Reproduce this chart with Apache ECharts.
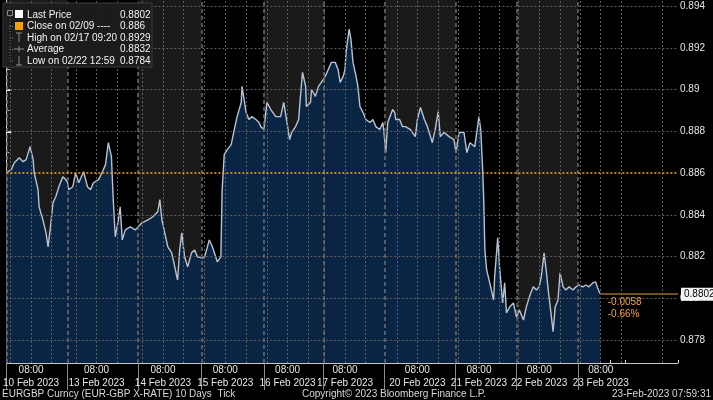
<!DOCTYPE html>
<html><head><meta charset="utf-8">
<script src="https://cdn.jsdelivr.net/npm/echarts@6/dist/echarts.min.js"></script>
<style>html,body{margin:0;padding:0;background:#000;}#c{width:713px;height:400px;}</style>
</head><body><div id="c"></div>
<script>
// [session hour, price]
const day10Feb = [[0,0.88602],[1.9,0.88617],[3.1,0.88650],[5,0.88674],[6.5,0.88655],[7.7,0.88665],[9.2,0.88727],[10.4,0.88665],[10.8,0.88602],[12.3,0.88521],[12.7,0.88439],[14.2,0.88376],[15.4,0.88314],[16.2,0.88247],[17.3,0.88362],[18.1,0.88458],[19.2,0.88487],[20.4,0.88535],[21.9,0.88583],[23.1,0.88569]];
const day13Feb = [[23.8,0.88554],[24.2,0.88521],[25.8,0.88535],[26.9,0.88602],[28.1,0.88554],[30,0.88607],[31.5,0.88535],[32.7,0.88521],[33.8,0.88554],[35.8,0.88569],[37.3,0.88607],[38.5,0.88641],[39.6,0.88746],[40.8,0.88679],[41.5,0.88473],[42.3,0.88295],[43.5,0.88376],[44.2,0.88439],[45,0.88280],[46.2,0.88328],[48.1,0.88343],[50,0.88328]];
const day14Feb = [[51.2,0.88343],[52.7,0.88362],[55,0.88376],[56.9,0.88391],[58.8,0.88415],[59.6,0.88473],[60.4,0.88376],[61.5,0.88314],[62.7,0.88247],[64.2,0.88218],[65.4,0.88151],[66.2,0.88103],[66.5,0.88088],[67.3,0.88232],[68.1,0.88314],[69.2,0.88199],[70.4,0.88151],[71.9,0.88218],[73.1,0.88232],[74.2,0.88199]];
const day15Feb = [[75.8,0.88194],[76.9,0.88194],[78.8,0.88280],[80,0.88247],[81.9,0.88175],[83.3,0.88199],[83.8,0.88521],[84.6,0.88689],[85.8,0.88713],[87.3,0.88737],[88.5,0.88809],[89.6,0.88871],[91.2,0.88939],[91.5,0.89016],[92.3,0.88953],[93.1,0.88891],[94.2,0.88857],[95.4,0.88871],[96.9,0.88857],[98.1,0.88843],[98.8,0.88823]];
const day16Feb = [[100,0.88809],[101.2,0.88939],[102.7,0.88905],[104.6,0.88871],[106.5,0.88871],[107.7,0.88939],[108.8,0.88857],[110,0.88761],[110.8,0.88795],[112.3,0.88823],[113.5,0.88857],[114.2,0.88968],[115,0.89083],[116.2,0.89016],[116.5,0.88919],[118.1,0.88939],[118.5,0.89001],[120,0.88968],[121.2,0.89016],[122.3,0.89035]];
const day17Feb = [[123.1,0.89049],[123.8,0.89064],[125,0.89097],[126.2,0.89131],[127.7,0.89131],[128.8,0.89097],[129.6,0.89035],[130.8,0.89064],[131.5,0.89097],[131.9,0.89179],[133.1,0.8929],[133.8,0.89241],[134.6,0.89131],[135.8,0.89064],[136.5,0.89016],[137.3,0.88919],[138.5,0.88891],[139.6,0.88857],[141.2,0.88843],[142.3,0.88857],[143.5,0.88823],[145,0.88809],[146.2,0.88843]];
const day20Feb = [[146.9,0.88761],[147.3,0.88698],[148.1,0.88843],[148.8,0.88843],[150,0.88905],[150.8,0.88891],[151.2,0.88857],[152.7,0.88857],[153.8,0.88823],[155,0.88823],[156.9,0.88809],[158.8,0.88775],[159.6,0.88857],[160.8,0.88915],[162.3,0.88857],[163.5,0.88823],[165.4,0.88746],[166.5,0.88809],[167.7,0.88895],[168.5,0.88775],[170,0.88795],[171.9,0.88775],[173.8,0.88761]];
const day21Feb = [[174.6,0.88698],[175.8,0.88795],[177.7,0.88795],[178.8,0.88698],[180,0.88746],[181.9,0.88727],[183.5,0.88871],[184.2,0.88809],[185,0.88602],[185.4,0.88458],[185.8,0.88232],[186.5,0.88136],[187.7,0.88074],[189.2,0.87992],[189.6,0.88103],[190.8,0.88290],[191.5,0.88151],[192.7,0.87978],[193.5,0.88074],[194.2,0.87930],[195.4,0.87958],[196.9,0.87978],[198.1,0.87910]];
const day22Feb = [[199.2,0.87944],[200.8,0.87896],[201.9,0.87958],[203.1,0.88007],[204.6,0.88055],[205.8,0.88040],[206.9,0.88055],[207.7,0.88103],[208.8,0.88218],[209.6,0.88136],[210.4,0.88040],[211.2,0.87958],[212.3,0.8784],[213.1,0.87958],[214.2,0.87992],[215,0.88122],[216.2,0.88055],[217.3,0.88040],[218.5,0.88055],[220,0.88040],[221.2,0.88055]];
const day23Feb = [[222.3,0.88064],[223.8,0.88055],[225,0.88064],[226.2,0.88055],[227.7,0.88074],[228.8,0.88079],[229.6,0.88050],[230.4,0.88026],[230.8,0.8802]];

const dayStarts = [0,23.8,51.2,75.8,100,123.1,146.9,174.4,198.1,221.9];
const dayLabels = ['10 Feb 2023','13 Feb 2023','14 Feb 2023','15 Feb 2023','16 Feb 2023','17 Feb 2023','20 Feb 2023','21 Feb 2023','22 Feb 2023','23 Feb 2023'];
const labelHours = [9.6,35,60.8,85,109.2,131.5,159.6,183.5,206.9,230.8];
const xMax = 260.8;
const yMin = 0.8769, yMax = 0.8943;
const yTicks = [0.878,0.88,0.882,0.884,0.886,0.888,0.89,0.892,0.894];
const yMinorTicks = [0.879,0.881,0.883,0.885,0.887,0.889,0.891,0.893];
const closePrice = 0.886;
const lastPrice = 0.8802;
const lastLabel = '0.8802';
const changeTexts = ['-0.0058','-0.66%'];
const legendLabels = ['Last Price','Close on 02/09 ----','High on 02/17 09:20','Average','Low on 02/22 12:59'];
const legendValues = ['0.8802','0.886','0.8929','0.8832','0.8784'];
const footerLeft = 'EURGBP Curncy (EUR-GBP X-RATE) 10 Days  Tick';
const footerMid = 'Copyright\u00a9 2023 Bloomberg Finance L.P.';
const footerRight = '23-Feb-2023 07:59:31';

const prices = [].concat(day10Feb,day13Feb,day14Feb,day15Feb,day16Feb,day17Feb,day20Feb,day21Feb,day22Feb,day23Feb);
const lastHour = prices[prices.length-1][0];

const bands = [];
for (let i = 0; i < dayStarts.length; i += 2) {
  bands.push([{xAxis: dayStarts[i]}, {xAxis: i+1 < dayStarts.length ? dayStarts[i+1] : xMax}]);
}
const minorX = [];
dayStarts.forEach(s => { for (let k = 1; k <= 3; k++) minorX.push(s + k*6.2); });
minorX.push(xMax);
const gridX = [];
labelHours.forEach(h => { [h-8, h, h+8].forEach(v => { if (v > 0.5 && v < xMax) gridX.push(v); }); });
[254.8].forEach(v => gridX.push(v));

const dotted = {color:'#5e5e5e', width:1, type:[2,2]};
const mlData = [];
gridX.forEach(v => mlData.push({xAxis: v, lineStyle: dotted}));
yTicks.forEach(v => { if (v !== closePrice) mlData.push({yAxis: v, lineStyle: dotted}); });
dayStarts.forEach(v => mlData.push({xAxis: v, lineStyle: {color:'#6e6e6e', width:1.5, type:[4,3]}}));
mlData.push({yAxis: closePrice, lineStyle: {color:'#f5a623', width:1.5, type:[2,2]}});

const fmtY = v => String(Number(v.toFixed(3)));
const font = '"Liberation Sans", Arial, sans-serif';

const legendGraphics = [
  {type:'rect', shape:{x:3,y:3,width:149,height:64}, style:{fill:'rgba(28,28,28,0.96)', stroke:'#3c3c3c', lineWidth:1}, z:100},
  {type:'rect', shape:{x:7.5,y:10.5,width:5,height:5}, style:{fill:'none', stroke:'#888', lineWidth:1}, z:101},
  {type:'line', shape:{x1:10,y1:16,x2:10,y2:61}, style:{stroke:'#777', lineWidth:1, lineDash:[1,2]}, z:101},
  {type:'rect', shape:{x:15,y:10,width:8,height:8}, style:{fill:'#ffffff'}, z:101},
  {type:'rect', shape:{x:15,y:22,width:8,height:8}, style:{fill:'#f5a000'}, z:101},
  {type:'line', shape:{x1:19,y1:33,x2:19,y2:42}, style:{stroke:'#8a8a8a', lineWidth:1}, z:101},
  {type:'line', shape:{x1:16,y1:33,x2:22,y2:33}, style:{stroke:'#8a8a8a', lineWidth:1}, z:101},
  {type:'line', shape:{x1:14,y1:49,x2:24,y2:49}, style:{stroke:'#8a8a8a', lineWidth:1}, z:101},
  {type:'line', shape:{x1:19,y1:46,x2:19,y2:52}, style:{stroke:'#8a8a8a', lineWidth:1}, z:101},
  {type:'line', shape:{x1:19,y1:56,x2:19,y2:65}, style:{stroke:'#8a8a8a', lineWidth:1}, z:101},
  {type:'line', shape:{x1:16,y1:65,x2:22,y2:65}, style:{stroke:'#8a8a8a', lineWidth:1}, z:101}
];
const rowY = [15,26.5,38,49.5,61];
[26.5,38,49.5,61].forEach(y => legendGraphics.push({type:'line', shape:{x1:10,y1:y,x2:14,y2:y}, style:{stroke:'#777', lineWidth:1, lineDash:[1,1]}, z:101}));
legendLabels.forEach((t,i) => {
  legendGraphics.push({type:'text', x:27, y:rowY[i], style:{text:t, fill:'#f2f2f2', font:'10px '+font, textVerticalAlign:'middle'}, z:102});
  legendGraphics.push({type:'text', x:120, y:rowY[i], style:{text:legendValues[i], fill:'#f2f2f2', font:'10px '+font, textVerticalAlign:'middle'}, z:102});
});
const footer = [
  {type:'text', x:2, y:394, style:{text:footerLeft, fill:'#d8d8d8', font:'10px '+font, textVerticalAlign:'middle'}},
  {type:'text', x:302, y:394, style:{text:footerMid, fill:'#d8d8d8', font:'10px '+font, textVerticalAlign:'middle'}},
  {type:'text', x:711, y:394, style:{text:footerRight, fill:'#d8d8d8', font:'10px '+font, textVerticalAlign:'middle', textAlign:'right'}}
];

const chart = echarts.init(document.getElementById('c'), null, {renderer:'canvas'});
chart.setOption({
  backgroundColor:'#000',
  animation:false,
  textStyle:{fontFamily:font},
  grid:{left:0, right:35, top:0, bottom:37, containLabel:false},
  xAxis:[{
    type:'value', min:0, max:xMax, position:'bottom',
    axisLine:{show:true, lineStyle:{color:'#c8c8c8', width:1}},
    axisTick:{show:true, customValues:dayStarts, length:27, lineStyle:{color:'#8a8a8a', width:1}},
    axisLabel:{show:true, customValues:labelHours, color:'#e6e6e6', fontSize:10, lineHeight:13, margin:1,
      formatter: v => { let idx = 0, best = 1e9; labelHours.forEach((h,i)=>{ if (Math.abs(h-v)<best){best=Math.abs(h-v); idx=i;} }); return '08:00\n' + dayLabels[idx]; }},
    splitLine:{show:false}
  },{
    type:'value', min:0, max:xMax, position:'bottom',
    axisLine:{show:false},
    axisTick:{show:true, customValues:minorX, inside:true, length:3, lineStyle:{color:'#dcdcdc', width:1}},
    axisLabel:{show:false}, splitLine:{show:false}
  }],
  yAxis:[{
    type:'value', min:yMin, max:yMax, position:'right',
    axisLine:{show:true, lineStyle:{color:'#c8c8c8', width:1}},
    axisTick:{show:true, customValues:yTicks, length:5, lineStyle:{color:'#e0e0e0', width:2}},
    axisLabel:{show:true, customValues:yTicks, color:'#e6e6e6', fontSize:10, margin:2, formatter:fmtY},
    splitLine:{show:false}
  },{
    type:'value', min:yMin, max:yMax, position:'right',
    axisLine:{show:false},
    axisTick:{show:true, customValues:yMinorTicks, length:3, lineStyle:{color:'#bcbcbc', width:1}},
    axisLabel:{show:false}, splitLine:{show:false}
  }],
  series:[{
    type:'line', data:prices, symbol:'none', z:1, silent:true,
    lineStyle:{width:0, opacity:0},
    areaStyle:{color:'#0a2444', opacity:1, origin:'start'}
  },{
    type:'line', data:[], z:2, silent:true,
    markArea:{silent:true, itemStyle:{color:'rgba(255,255,255,0.1)'}, data:bands},
    markLine:{silent:true, symbol:'none', precision:6, animation:false, label:{show:false}, data:mlData}
  },{
    type:'line', data:prices, symbol:'none', z:3, silent:true,
    lineStyle:{color:'#b9c3ce', width:1.4},
    markLine:{silent:true, symbol:'none', precision:6, animation:false,
      lineStyle:{color:'#9a6a36', width:1.5, type:'solid'},
      label:{show:true, position:'end', formatter:lastLabel, backgroundColor:'#f4f4f4', color:'#000', fontSize:10, padding:[2,3,1,3], distance:3, fontFamily:font},
      data:[[{coord:[lastHour,lastPrice]},{coord:[xMax,lastPrice]}]]},
    markPoint:{silent:true, symbol:'circle', symbolSize:0, animation:false,
      label:{show:true, position:[7,2], align:'left', verticalAlign:'top', color:'#f0a040', fontSize:10, lineHeight:12, formatter:changeTexts.join('\n'), fontFamily:font},
      data:[{coord:[lastHour,lastPrice]}]}
  }],
  graphic: legendGraphics.concat(footer)
});
</script></body></html>
